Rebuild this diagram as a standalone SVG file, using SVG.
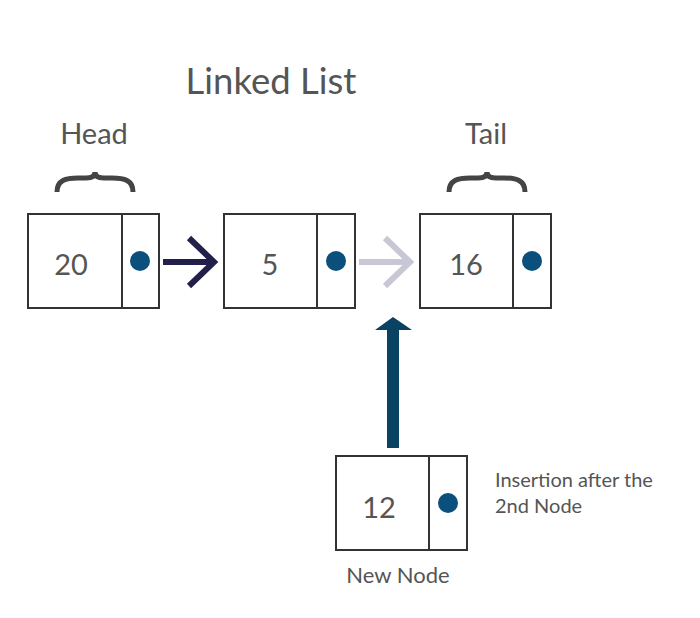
<svg xmlns="http://www.w3.org/2000/svg" width="700" height="618" viewBox="0 0 700 618">
<style>
  text { font-family: Lato, "Open Sans", "Liberation Sans", sans-serif; fill: #555555; }
  .box { fill: #ffffff; stroke: #333333; stroke-width: 2; }
  .div { stroke: #333333; stroke-width: 2; }
  .dot { fill: #0b4f7c; }
  .val { font-size: 29px; text-anchor: middle; }
  .brace { fill: none; stroke: #444444; stroke-width: 5; }
</style>
<rect width="700" height="618" fill="#ffffff"/>
<text x="271" y="94" font-size="36.5" text-anchor="middle">Linked List</text>
<g id="head-label">
  <text x="94" y="144" font-size="29" text-anchor="middle">Head</text>
  <path class="brace" d="M57,192 C57,180 66,178 78,178 L86,178 C92,178 95,176 95,172 C95,176 98,178 104,178 L112,178 C124,178 133,180 133,192"/>
</g>
<g id="tail-label">
  <text x="486" y="144" font-size="29" text-anchor="middle">Tail</text>
  <path class="brace" d="M449,192 C449,180 458,178 470,178 L478,178 C484,178 487,176 487,172 C487,176 490,178 496,178 L504,178 C516,178 525,180 525,192"/>
</g>
<g id="node1">
  <rect class="box" x="28" y="214" width="131" height="94"/>
  <line class="div" x1="122" y1="214" x2="122" y2="308"/>
  <text class="val" x="71" y="275">20</text>
  <circle class="dot" cx="140" cy="261" r="10"/>
</g>
<g id="node2">
  <rect class="box" x="224" y="214" width="131" height="94"/>
  <line class="div" x1="317" y1="214" x2="317" y2="308"/>
  <text class="val" x="270" y="275">5</text>
  <circle class="dot" cx="336" cy="261" r="10"/>
</g>
<g id="node3">
  <rect class="box" x="420" y="214" width="131" height="94"/>
  <line class="div" x1="513" y1="214" x2="513" y2="308"/>
  <text class="val" x="466" y="275">16</text>
  <circle class="dot" cx="532" cy="261" r="10"/>
</g>
<g id="newnode">
  <rect class="box" x="336" y="456" width="131" height="94"/>
  <line class="div" x1="429" y1="456" x2="429" y2="550"/>
  <text class="val" x="379" y="518">12</text>
  <circle class="dot" cx="448" cy="503" r="10"/>
  <text x="398" y="583" font-size="22" text-anchor="middle">New Node</text>
</g>
<g id="note">
  <text x="495" y="487" font-size="20">Insertion after the</text>
  <text x="495" y="513" font-size="20">2nd Node</text>
</g>
<g id="connectors">
  <g fill="none" stroke="#22204a" stroke-width="6">
    <line x1="163" y1="262" x2="215" y2="262"/>
    <polyline points="189,238 214,262 189,286"/>
  </g>
  <g fill="none" stroke="#c8c7d5" stroke-width="6">
    <line x1="359" y1="262" x2="411" y2="262"/>
    <polyline points="385,238 410,262 385,286"/>
  </g>
  <polygon fill="#0a4263" points="387,448 399,448 399,330 412,330 393,317 375,330 387,330"/>
</g>
</svg>
